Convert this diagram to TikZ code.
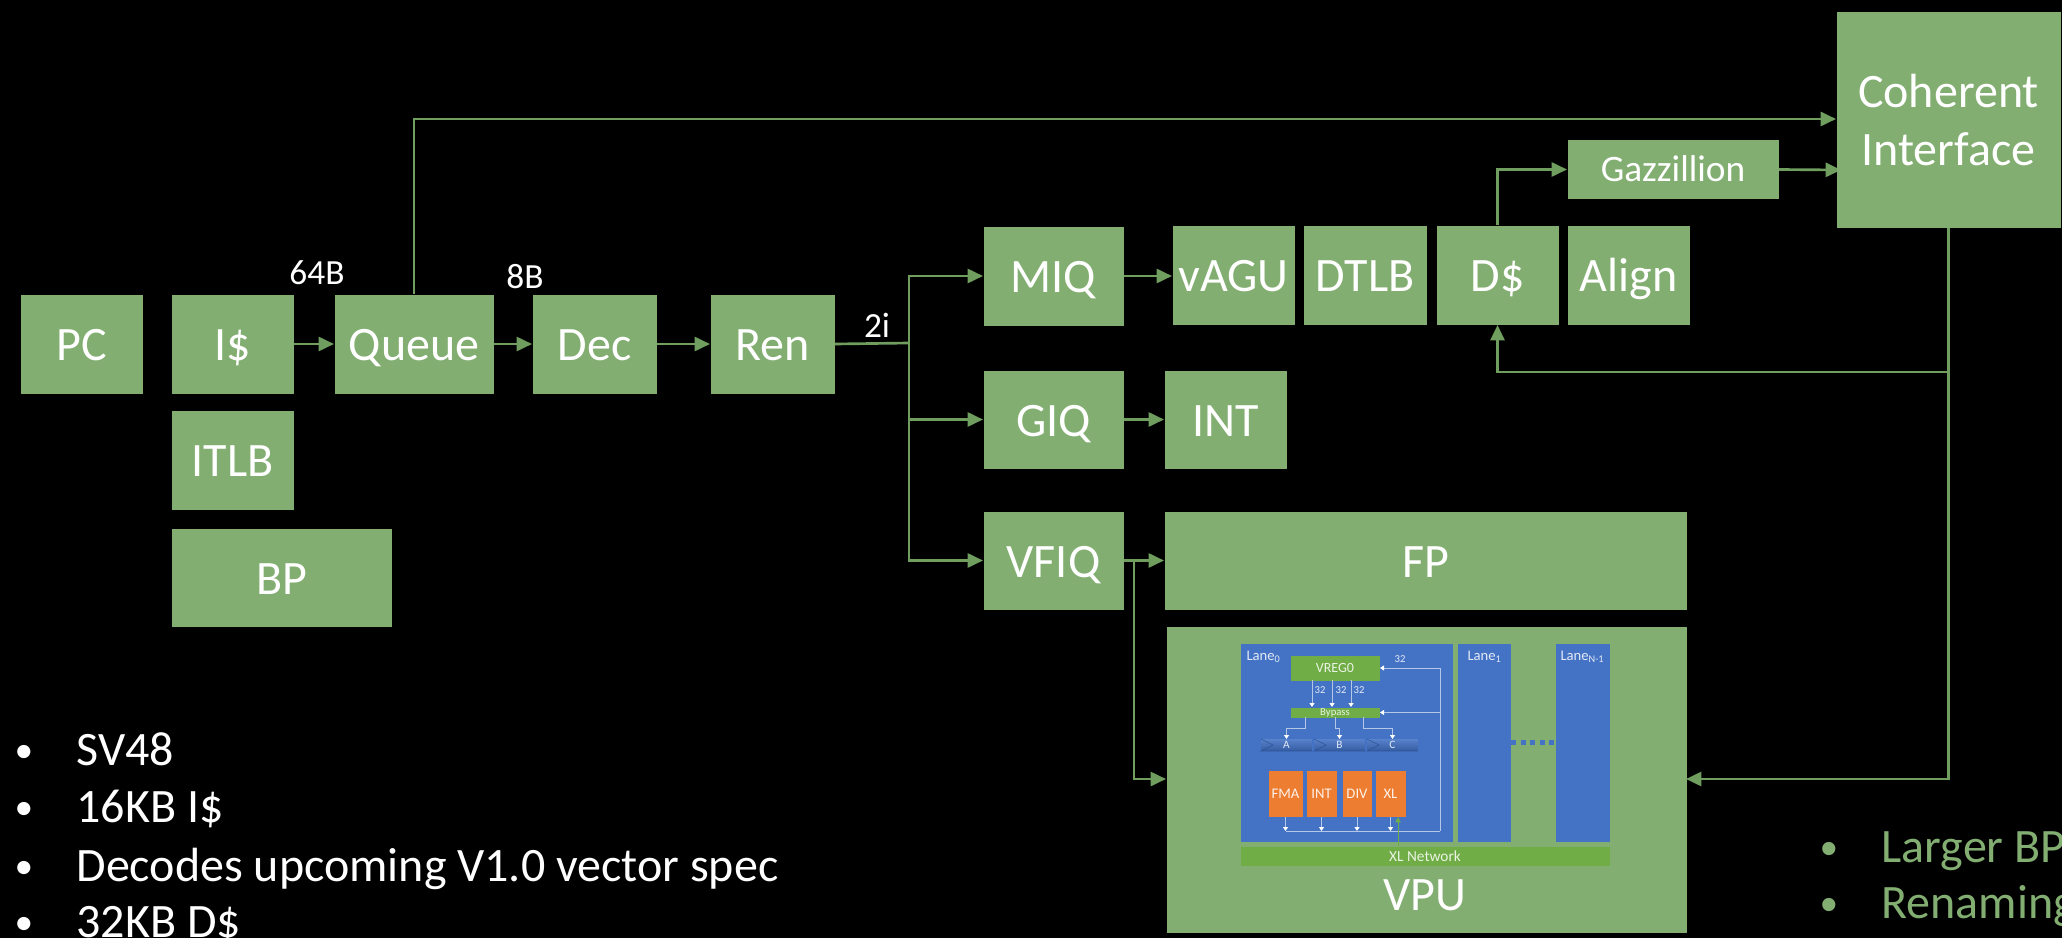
\documentclass[tikz,border=0pt]{standalone}
\usepackage{fontspec}
\setmainfont{Carlito}
\usetikzlibrary{arrows.meta}

\definecolor{blockgreen}{RGB}{131,174,114}
\definecolor{flowgreen}{RGB}{112,158,95}
\definecolor{netgreen}{RGB}{112,173,71}
\definecolor{laneblue}{RGB}{68,114,196}
\definecolor{regdark}{RGB}{47,85,151}
\definecolor{execorange}{RGB}{237,125,49}

\tikzset{every picture/.style={line width=0.75pt}}
\tikzset{
  sized/.style 2 args={anchor=north west,inner sep=0.75pt,minimum width=#1*0.75pt,minimum height=#2*0.75pt},
  multibox/.style={fill=blockgreen,text=white,font=\fontsize{36}{43}\selectfont,align=center},
  blockbox/.style={fill=blockgreen,text=white,font=\fontsize{36}{43}\selectfont,text height=25pt,text depth=0pt},
  gazzbox/.style={fill=blockgreen,text=white,font=\fontsize{28}{33}\selectfont,text height=18pt,text depth=0pt},
  lanebox/.style={fill=laneblue},
  netbox/.style={fill=netgreen,text=white!85!netgreen,font=\fontsize{11.5}{13}\selectfont},
  regbox/.style={top color=laneblue!90!white,bottom color=regdark!70!laneblue,text=white!85!laneblue,font=\fontsize{8.5}{10}\selectfont},
  execbox/.style={fill=execorange,text=white!90!execorange,font=\fontsize{11}{13}\selectfont},
  flowline/.style={draw=flowgreen,line width=2pt},
  flowarrow/.style={flowline,-{Triangle[length=11.5pt,width=10.5pt]}},
  wireline/.style={draw=white!60!laneblue,line width=0.75pt},
  wirearrow/.style={wireline,-{Triangle[length=3pt,width=3.75pt,color=white]}},
  regmark/.style={draw=regdark,line width=0.5pt},
  lanedots/.style={draw=laneblue,line width=3.75pt,dash pattern=on 3.75pt off 3.4pt},
  linktext/.style={anchor=center,inner sep=0.75pt,text=white,font=\fontsize{26.5}{30}\selectfont},
  lanetext/.style={anchor=base west,inner sep=0pt,text=white!85!laneblue,font=\fontsize{11}{13}\selectfont},
  widthtext/.style={anchor=center,inner sep=0pt,text=white!85!laneblue,font=\fontsize{8}{10}\selectfont},
  listtext/.style={anchor=base west,inner sep=0pt,text=white,font=\fontsize{36}{43}\selectfont},
  listdot/.style={listtext,font=\fontsize{28}{34}\selectfont},
  notetext/.style={listtext,text=blockgreen},
  notedot/.style={listdot,text=blockgreen},
}

\begin{document}
\begin{tikzpicture}[x=0.75pt,y=0.75pt,yscale=-1,xscale=1]
\useasboundingbox (0,0) rectangle (2062,938);
\fill [black] (0,0) rectangle (2062,938);

% Front end
\node (pc) [blockbox,sized={122}{99}] at (20,294) {PC};
\node (icache) [blockbox,sized={122}{99}] at (171,294) {I\$};
\node (queue) [blockbox,sized={159}{99}] at (334,294) {Queue};
\node (dec) [blockbox,sized={124}{99}] at (532,294) {Dec};
\node (ren) [blockbox,sized={124}{99}] at (710,294) {Ren};
\node (itlb) [blockbox,sized={122}{99}] at (171,410) {ITLB};
\node (bp) [blockbox,sized={220}{98}] at (171,528) {BP};

% Issue queues
\node (miq) [blockbox,sized={140}{99}] at (983,226) {MIQ};
\node (giq) [blockbox,sized={140}{98}] at (983,370) {GIQ};
\node (vfiq) [blockbox,sized={140}{98}] at (983,511) {VFIQ};

% Back end
\node (vagu) [blockbox,sized={122}{99}] at (1172,225) {vAGU};
\node (dtlb) [blockbox,sized={123}{99}] at (1303,225) {DTLB};
\node (dcache) [blockbox,sized={122}{99}] at (1436,225) {D\$};
\node (align) [blockbox,sized={122}{99}] at (1567,225) {Align};
\node (gazz) [gazzbox,sized={211}{58}] at (1567,140) {Gazzillion};
\node (int) [blockbox,sized={122}{98}] at (1164,370) {INT};
\node (fp) [blockbox,sized={522}{98}] at (1164,511) {FP};

% Gazzillion arrow goes under the interface box
\coordinate (gazzend) at (1841,170);
\draw [flowarrow] (gazz.east) -- (gazzend);
\node (coherent) [multibox,sized={224}{215}] at (1836,12) {Coherent\\Interface};

% VPU
\node (vpu) [fill=blockgreen,sized={520}{306}] at (1166,626) {};
\node (vpulabel) [anchor=center,inner sep=0.75pt,text=white,font=\fontsize{36}{43}\selectfont] at (1425,895) {VPU};
\node (lane0) [lanebox,sized={212}{198}] at (1240,643) {};
\node (lane1) [lanebox,sized={53}{198}] at (1457,643) {};
\node (lanen) [lanebox,sized={54}{198}] at (1555,643) {};
\node (xlnet) [netbox,sized={369}{19}] at (1240,846) {XL Network};
\node (vreg) [netbox,sized={89}{25},font=\fontsize{10.5}{12}\selectfont] at (1290,655) {VREG0};
\node (bypass) [netbox,sized={89}{10},inner sep=0pt,font=\fontsize{8}{8}\selectfont] at (1290,707) {Bypass};
\node (rega) [regbox,sized={50}{11},inner sep=0pt] at (1261,739) {A};
\node (regb) [regbox,sized={50}{11},inner sep=0pt] at (1314,739) {B};
\node (regc) [regbox,sized={50}{11},inner sep=0pt] at (1367,739) {C};
\node (fma) [execbox,sized={34}{46}] at (1268,770) {FMA};
\node (intl) [execbox,sized={30}{46}] at (1306,770) {INT};
\node (div) [execbox,sized={29}{46}] at (1342,770) {DIV};
\node (xl) [execbox,sized={30}{46}] at (1375,770) {XL};

% Lane text
\node (lanezero) [lanetext] at (1246,660) {Lane\textsubscript{0}};
\node (laneone) [lanetext] at (1467,660) {Lane\textsubscript{1}};
\node (lanelast) [lanetext] at (1560,660) {Lane\textsubscript{N-1}};
\node (wtop) [widthtext] at (1400,659) {32};
\node (wa) [widthtext] at (1320,690) {32};
\node (wb) [widthtext] at (1341,690) {32};
\node (wc) [widthtext] at (1359,690) {32};

% Lane wiring
\coordinate (vrega) at (1312,680);
\coordinate (vregb) at (1332,680);
\coordinate (vregc) at (1351,680);
\coordinate (bypa) at (1305,717);
\coordinate (bypb) at (1335,717);
\coordinate (bypc) at (1363,717);
\coordinate (wirebus) at (1440,831);
\coordinate (xlpin) at (1398,846);
\draw [wirearrow] (vrega) -- (vrega |- bypass.north);
\draw [wirearrow] (vregb) -- (vregb |- bypass.north);
\draw [wirearrow] (vregc) -- (vregc |- bypass.north);
\draw [wirearrow] (bypa) -- ++(0,11) -| (rega.north);
\draw [wirearrow] (bypb) -- ++(0,11) -| (regb.north);
\draw [wirearrow] (bypc) -- ++(0,11) -| (regc.north);
\draw [wireline] (fma.south |- wirebus) -- (wirebus);
\draw [wirearrow] (wirebus) |- (vreg.east);
\draw [wirearrow] (wirebus |- bypass.east) -- (bypass.east);
\draw [wirearrow] (fma.south) -- (fma.south |- wirebus);
\draw [wirearrow] (intl.south) -- (intl.south |- wirebus);
\draw [wirearrow] (div.south) -- (div.south |- wirebus);
\draw [wirearrow] (xl.south) -- (xl.south |- wirebus);
\draw [draw=netgreen,-{Triangle[length=4pt,width=4pt]}] (xlpin) -- (xlpin |- xl.south);
\draw [regmark] (rega.north west) -- ([xshift=9pt]rega.west) -- (rega.south west) -- (rega.south east);
\draw [regmark] (regb.north west) -- ([xshift=9pt]regb.west) -- (regb.south west) -- (regb.south east);
\draw [regmark] (regc.north west) -- ([xshift=9pt]regc.west) -- (regc.south west) -- (regc.south east);
\draw [lanedots] (lane1.east) -- (lanen.west);

% Pipeline arrows
\coordinate (bus) at (909,343);
\coordinate (cohtop) at (1836,119);
\coordinate (vfiqtap) at (1134,560);
\coordinate (vpuwest) at (1166,779);
\coordinate (vpueast) at (1686,779);
\coordinate (dtap) at (1948,372);
\draw [flowarrow] (icache.east) -- (queue.west);
\draw [flowarrow] (queue.east) -- (dec.west);
\draw [flowarrow] (dec.east) -- (ren.west);
\draw [flowarrow] (queue.north) |- (cohtop);
\draw [flowline] (ren.east) -- (bus);
\draw [flowarrow] (bus) |- (miq.west);
\draw [flowarrow] (bus) |- (giq.west);
\draw [flowarrow] (bus) |- (vfiq.west);
\draw [flowarrow] (miq.east) -- (vagu.west |- miq.east);
\draw [flowarrow] (giq.east) -- (int.west);
\draw [flowarrow] (vfiq.east) -- (fp.west);
\draw [flowarrow] (vfiqtap) |- (vpuwest);
\draw [flowarrow] (coherent.south) |- (vpueast);
\draw [flowarrow] (dtap) -| (dcache.south);
\draw [flowarrow] (dcache.north) |- (gazz.west);

% Link text
\node (linkfetch) [linktext] at (317,273) {64B};
\node (linkdec) [linktext] at (525,277) {8B};
\node (linkren) [linktext] at (877,325) {2i};

% Feature lists
\node (dotsv) [listdot] at (14,762) {•};
\node (itemsv) [listtext] at (76,765) {SV48};
\node (dotic) [listdot] at (14,819) {•};
\node (itemic) [listtext] at (76,822) {16KB I\$};
\node (dotdec) [listdot] at (14,878) {•};
\node (itemdec) [listtext] at (76,881) {Decodes upcoming V1.0 vector spec};
\node (dotdc) [listdot] at (14,934) {•};
\node (itemdc) [listtext] at (76,937) {32KB D\$};
\node (dotbp) [notedot] at (1819,859) {•};
\node (itembp) [notetext] at (1881,862) {Larger BP};
\node (dotren) [notedot] at (1819,915) {•};
\node (itemren) [notetext] at (1881,918) {Renaming};

\end{tikzpicture}
\end{document}
